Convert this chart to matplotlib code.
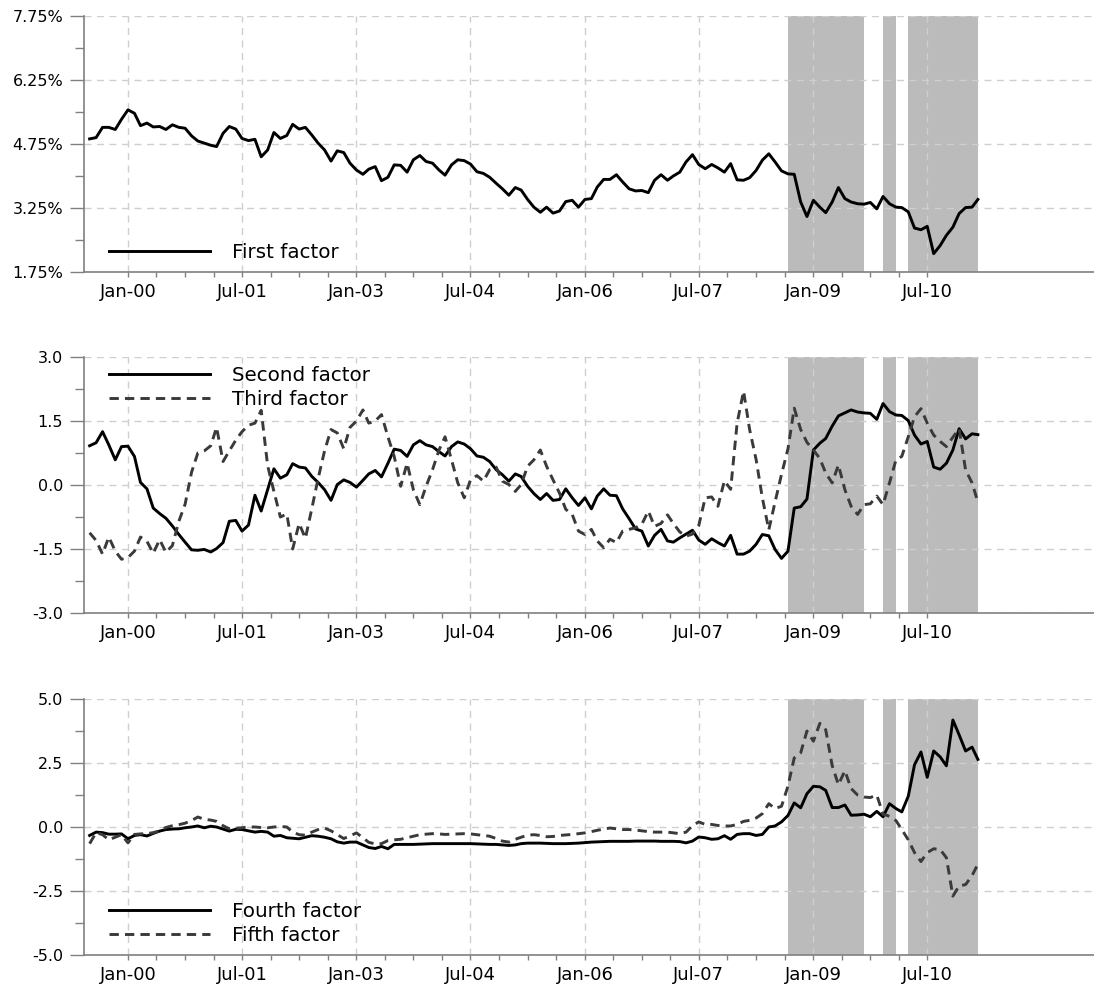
import matplotlib
matplotlib.use("Agg")
import matplotlib.pyplot as plt
import matplotlib.dates as mdates
import numpy as np
import pandas as pd

# ---------------- data (monthly, Jul-1999 .. Mar-2011) ----------------
start_month = "1999-07-01"

first_factor = [
    4.87, 4.90, 5.14, 5.14, 5.09, 5.33, 5.55, 5.47, 5.18, 5.24,
    5.15, 5.16, 5.09, 5.20, 5.14, 5.12, 4.94, 4.82, 4.77, 4.72,
    4.69, 5.00, 5.16, 5.10, 4.88, 4.83, 4.86, 4.45, 4.61, 5.02,
    4.88, 4.95, 5.21, 5.10, 5.14, 4.96, 4.77, 4.61, 4.35, 4.59,
    4.55, 4.30, 4.14, 4.04, 4.16, 4.22, 3.89, 3.97, 4.26, 4.25,
    4.09, 4.38, 4.48, 4.34, 4.30, 4.14, 4.02, 4.26, 4.38, 4.36,
    4.28, 4.10, 4.06, 3.97, 3.83, 3.70, 3.55, 3.73, 3.67, 3.45,
    3.27, 3.15, 3.27, 3.13, 3.18, 3.40, 3.43, 3.27, 3.45, 3.47,
    3.74, 3.92, 3.92, 4.03, 3.86, 3.70, 3.65, 3.66, 3.61, 3.90,
    4.03, 3.90, 4.00, 4.09, 4.33, 4.50, 4.27, 4.17, 4.27, 4.19,
    4.09, 4.29, 3.91, 3.90, 3.96, 4.13, 4.37, 4.52, 4.33, 4.12,
    4.05, 4.04, 3.39, 3.05, 3.43, 3.27, 3.14, 3.39, 3.73, 3.47,
    3.39, 3.35, 3.34, 3.38, 3.23, 3.52, 3.35, 3.27, 3.26, 3.16,
    2.78, 2.74, 2.82, 2.18, 2.37, 2.61, 2.80, 3.12, 3.26, 3.27,
    3.45,
]

second_factor = [
    0.92, 0.99, 1.25, 0.94, 0.59, 0.90, 0.91, 0.67, 0.06, -0.09,
    -0.54, -0.67, -0.78, -0.96, -1.16, -1.34, -1.52, -1.53, -1.51, -1.57,
    -1.49, -1.35, -0.85, -0.83, -1.08, -0.94, -0.24, -0.61, -0.11, 0.38,
    0.16, 0.24, 0.50, 0.42, 0.40, 0.20, 0.06, -0.11, -0.36, 0.01,
    0.12, 0.06, -0.05, 0.11, 0.26, 0.34, 0.19, 0.51, 0.84, 0.81,
    0.67, 0.94, 1.04, 0.94, 0.90, 0.78, 0.68, 0.90, 1.01, 0.96,
    0.85, 0.68, 0.65, 0.55, 0.36, 0.24, 0.09, 0.26, 0.20, -0.03,
    -0.20, -0.34, -0.20, -0.36, -0.34, -0.09, -0.30, -0.48, -0.30, -0.56,
    -0.26, -0.09, -0.24, -0.25, -0.56, -0.79, -1.03, -1.08, -1.43, -1.18,
    -1.04, -1.31, -1.34, -1.24, -1.15, -1.06, -1.29, -1.39, -1.26, -1.35,
    -1.43, -1.18, -1.62, -1.62, -1.55, -1.39, -1.16, -1.19, -1.51, -1.72,
    -1.55, -0.54, -0.51, -0.33, 0.82, 0.98, 1.09, 1.38, 1.62, 1.69,
    1.76, 1.71, 1.69, 1.68, 1.54, 1.91, 1.72, 1.64, 1.63, 1.51,
    1.17, 0.96, 1.02, 0.42, 0.37, 0.51, 0.82, 1.32, 1.08, 1.20,
    1.18,
]

third_factor = [
    -1.12, -1.30, -1.62, -1.22, -1.55, -1.74, -1.70, -1.55, -1.22, -1.32,
    -1.60, -1.28, -1.58, -1.42, -0.85, -0.45, 0.30, 0.75, 0.80, 0.92,
    1.35, 0.55, 0.80, 1.05, 1.25, 1.40, 1.45, 1.75, 0.45, -0.15,
    -0.75, -0.68, -1.50, -0.90, -1.25, -0.55, 0.15, 0.80, 1.30, 1.22,
    0.85, 1.35, 1.50, 1.76, 1.45, 1.50, 1.65, 1.13, 0.67, -0.03,
    0.51, -0.11, -0.46, -0.03, 0.36, 0.82, 1.13, 0.59, 0.05, -0.30,
    0.12, 0.22, 0.09, 0.36, 0.42, 0.09, 0.01, -0.15, 0.01, 0.44,
    0.59, 0.82, 0.44, 0.12, -0.19, -0.57, -0.69, -1.08, -1.16, -1.04,
    -1.31, -1.47, -1.27, -1.35, -1.08, -1.04, -1.00, -0.92, -0.61, -0.97,
    -0.90, -0.70, -0.90, -1.10, -1.20, -1.15, -0.95, -0.30, -0.28, -0.50,
    0.10, -0.10, 1.45, 2.20, 1.30, 0.60, -0.30, -1.05, -0.40, 0.25,
    0.85, 1.80, 1.30, 1.00, 0.82, 0.62, 0.28, 0.05, 0.47, -0.11,
    -0.50, -0.69, -0.46, -0.44, -0.26, -0.46, 0.05, 0.59, 0.67, 1.13,
    1.60, 1.79, 1.45, 1.17, 1.02, 0.90, 1.12, 1.32, 0.35, 0.05,
    -0.40,
]

fourth_factor = [
    -0.33, -0.20, -0.22, -0.28, -0.28, -0.27, -0.46, -0.33, -0.30, -0.35,
    -0.25, -0.16, -0.10, -0.08, -0.07, -0.03, 0.00, 0.04, -0.03, 0.03,
    0.00, -0.08, -0.16, -0.09, -0.10, -0.15, -0.20, -0.17, -0.20, -0.36,
    -0.33, -0.42, -0.44, -0.46, -0.40, -0.34, -0.36, -0.40, -0.46, -0.58,
    -0.63, -0.59, -0.59, -0.70, -0.80, -0.84, -0.76, -0.85, -0.68, -0.68,
    -0.68, -0.68, -0.67, -0.66, -0.65, -0.65, -0.65, -0.65, -0.65, -0.65,
    -0.65, -0.66, -0.67, -0.68, -0.68, -0.70, -0.72, -0.70, -0.65, -0.63,
    -0.63, -0.63, -0.64, -0.65, -0.65, -0.65, -0.64, -0.63, -0.61, -0.59,
    -0.58, -0.57, -0.56, -0.56, -0.56, -0.56, -0.55, -0.55, -0.55, -0.55,
    -0.56, -0.56, -0.56, -0.57, -0.62, -0.55, -0.39, -0.42, -0.48, -0.46,
    -0.34, -0.48, -0.29, -0.26, -0.26, -0.33, -0.29, 0.00, 0.04, 0.20,
    0.45, 0.94, 0.75, 1.30, 1.59, 1.57, 1.43, 0.76, 0.76, 0.86,
    0.46, 0.47, 0.50, 0.40, 0.61, 0.40, 0.91, 0.72, 0.59, 1.20,
    2.43, 2.93, 1.94, 2.97, 2.74, 2.39, 4.18, 3.60, 2.97, 3.12,
    2.64,
]

fifth_factor = [
    -0.65, -0.22, -0.30, -0.50, -0.40, -0.30, -0.62, -0.29, -0.27, -0.26,
    -0.22, -0.15, -0.02, 0.05, 0.09, 0.15, 0.25, 0.39, 0.30, 0.27,
    0.22, 0.05, -0.07, -0.05, -0.03, 0.00, 0.00, -0.02, -0.03, 0.00,
    0.02, 0.00, -0.20, -0.30, -0.32, -0.20, -0.10, -0.04, -0.15, -0.30,
    -0.45, -0.35, -0.23, -0.42, -0.60, -0.66, -0.65, -0.53, -0.50, -0.48,
    -0.42, -0.36, -0.30, -0.28, -0.26, -0.27, -0.29, -0.28, -0.27, -0.26,
    -0.27, -0.30, -0.33, -0.36, -0.45, -0.55, -0.59, -0.48, -0.40, -0.32,
    -0.30, -0.33, -0.38, -0.37, -0.33, -0.31, -0.29, -0.26, -0.23, -0.18,
    -0.13, -0.08, -0.04, -0.07, -0.10, -0.10, -0.12, -0.15, -0.18, -0.20,
    -0.20, -0.20, -0.23, -0.26, -0.20, 0.05, 0.20, 0.10, 0.10, 0.06,
    0.04, 0.04, 0.10, 0.22, 0.26, 0.35, 0.52, 0.91, 0.72, 0.81,
    1.60, 2.70, 2.90, 3.75, 3.35, 4.05, 3.80, 2.40, 1.65, 2.20,
    1.50, 1.25, 1.17, 1.15, 1.25, 0.50, 0.42, 0.25, -0.10, -0.50,
    -1.00, -1.35, -1.00, -0.85, -0.88, -1.20, -2.70, -2.30, -2.25, -1.90,
    -1.45,
]

shade_periods = [("2008-09-01", "2009-09-01"),
                 ("2009-12-01", "2010-02-01"),
                 ("2010-04-01", "2011-03-01")]

xtick_dates = ["2000-01-01", "2001-07-01", "2003-01-01", "2004-07-01",
               "2006-01-01", "2007-07-01", "2009-01-01", "2010-07-01"]
xtick_labels = ["Jan-00", "Jul-01", "Jan-03", "Jul-04",
                "Jan-06", "Jul-07", "Jan-09", "Jul-10"]

p1_yticks = [1.75, 3.25, 4.75, 6.25, 7.75]
p1_ylabels = ["1.75%", "3.25%", "4.75%", "6.25%", "7.75%"]
p2_yticks = [-3.0, -1.5, 0.0, 1.5, 3.0]
p2_ylabels = ["-3.0", "-1.5", "0.0", "1.5", "3.0"]
p3_yticks = [-5.0, -2.5, 0.0, 2.5, 5.0]
p3_ylabels = ["-5.0", "-2.5", "0.0", "2.5", "5.0"]

# ---------------- figure ----------------
W, H = 1094, 986
fig = plt.figure(figsize=(W / 100, H / 100), dpi=100)
plt.rcParams["font.family"] = ["DejaVu Sans"]

dates = pd.date_range(start_month, periods=len(first_factor), freq="MS")

x_left = mdates.date2num(pd.Timestamp("1999-06-04"))
x_right = mdates.date2num(pd.Timestamp("2012-09-08"))

left_px = 84
def ax_rect(top_px, bot_px):
    return [left_px / W, 1 - bot_px / H, (W - left_px) / W, (bot_px - top_px) / H]

axes = [fig.add_axes(ax_rect(16, 272)),
        fig.add_axes(ax_rect(357, 613)),
        fig.add_axes(ax_rect(699, 955))]

spine_col = "#808080"
grid_col = "#cfcfcf"
shade_col = "#bbbbbb"
dash_col = "#3a3a3a"
lw = 2.1

major_x = [mdates.date2num(pd.Timestamp(d)) for d in xtick_dates]
minor_x = []
for a, b in zip(major_x[:-1], major_x[1:]):
    minor_x.extend(list(np.linspace(a, b, 5)[1:-1]))

def style(ax, yticks, ylabels):
    ax.set_xlim(x_left, x_right)
    ax.set_ylim(yticks[0], yticks[-1])
    for d0, d1 in shade_periods:
        ax.axvspan(pd.Timestamp(d0), pd.Timestamp(d1), color=shade_col, lw=0, zorder=0.5)
    ax.set_xticks(major_x)
    ax.set_xticklabels(xtick_labels)
    ax.set_xticks(minor_x, minor=True)
    ax.set_yticks(yticks)
    ax.set_yticklabels(ylabels)
    ax.set_yticks([(a + b) / 2 for a, b in zip(yticks[:-1], yticks[1:])], minor=True)
    ax.grid(True, which="major", color=grid_col, linestyle=(0, (5, 4)), linewidth=1.0, zorder=1)
    for s in ("top", "right"):
        ax.spines[s].set_visible(False)
    for s in ("left", "bottom"):
        ax.spines[s].set_color(spine_col)
        ax.spines[s].set_linewidth(1.2)
    ax.tick_params(axis="x", which="both", direction="out", length=3.6, width=1.0,
                   color=spine_col, labelsize=13, pad=4)
    ax.tick_params(axis="y", which="major", direction="out", length=10, width=1.0,
                   color=spine_col, labelsize=11.5, pad=5)
    ax.tick_params(axis="y", which="minor", direction="out", length=6.5, width=1.0,
                   color=spine_col)

dash_style = (0, (3.2, 2.1))
leg_kw = dict(frameon=False, fontsize=14.3, handlelength=5.1, handletextpad=1.1,
              borderpad=0, borderaxespad=0, labelspacing=0.22)

ax = axes[0]
style(ax, p1_yticks, p1_ylabels)
ax.plot(dates, first_factor, color="black", lw=lw, label="First factor", zorder=3)
ax.legend(loc="center left", bbox_to_anchor=(0.0244, 0.078), **leg_kw)

ax = axes[1]
style(ax, p2_yticks, p2_ylabels)
ax.plot(dates, second_factor, color="black", lw=lw, label="Second factor", zorder=3)
ax.plot(dates, third_factor, color=dash_col, lw=lw, linestyle=dash_style, label="Third factor", zorder=3)
ax.legend(loc="center left", bbox_to_anchor=(0.0244, 0.881), **leg_kw)

ax = axes[2]
style(ax, p3_yticks, p3_ylabels)
ax.plot(dates, fourth_factor, color="black", lw=lw, label="Fourth factor", zorder=3)
ax.plot(dates, fifth_factor, color=dash_col, lw=lw, linestyle=dash_style, label="Fifth factor", zorder=3)
ax.legend(loc="center left", bbox_to_anchor=(0.0244, 0.1234), **leg_kw)

fig.savefig("out.png", dpi=100)
